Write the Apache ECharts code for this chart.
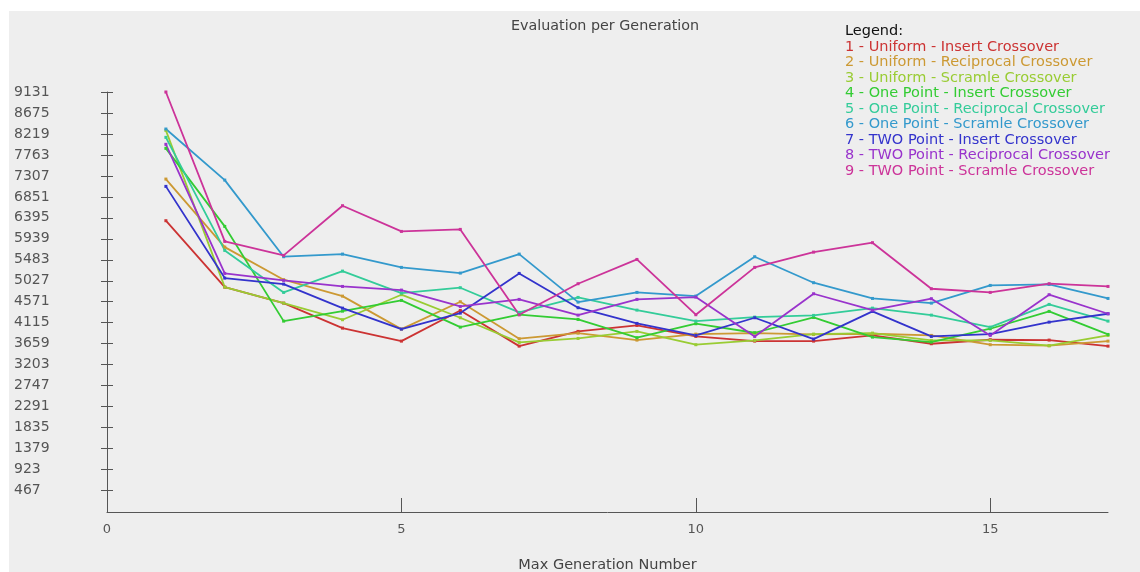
<!DOCTYPE html>
<html>
<head>
<meta charset="utf-8">
<script src="https://cdn.jsdelivr.net/npm/echarts@6/dist/echarts.min.js"></script>
<style>
html,body{margin:0;padding:0;background:#ffffff;}
#chart{width:1140px;height:572px;}
</style>
</head>
<body>
<div id="chart"></div>
<script>
// ---- data ----
const generations = [1,2,3,4,5,6,7,8,9,10,11,12,13,14,15,16,17];
const xTicks = [0,5,10,15];
const yTicks = [467,923,1379,1835,2291,2747,3203,3659,4115,4571,5027,5483,5939,6395,6851,7307,7763,8219,8675,9131];
const seriesNames = [
  "1 - Uniform - Insert Crossover",
  "2 - Uniform - Reciprocal Crossover",
  "3 - Uniform - Scramle Crossover",
  "4 - One Point - Insert Crossover",
  "5 - One Point - Reciprocal Crossover",
  "6 - One Point - Scramle Crossover",
  "7 - TWO Point - Insert Crossover",
  "8 - TWO Point - Reciprocal Crossover",
  "9 - TWO Point - Scramle Crossover"
];
const s1 = [6333,4889,4541,3998,3715,4382,3606,3926,4056,3817,3715,3715,3839,3658,3745,3737,3606];
const s2 = [7238,5759,5050,4693,3976,4571,3767,3889,3737,3867,3889,3860,3875,3839,3637,3615,3715];
const s3 = [8297,4889,4541,4180,4724,4223,3686,3773,3926,3637,3730,3867,3889,3730,3730,3615,3839];
const s4 = [7906,6209,4150,4367,4600,4019,4289,4187,3789,4093,3897,4230,3802,3693,3984,4361,3860];
const s5 = [8145,5687,4774,5237,4759,4876,4339,4665,4389,4150,4237,4274,4432,4280,4019,4513,4150];
const s6 = [8326,7216,5550,5607,5318,5194,5607,4563,4774,4694,5550,4985,4643,4541,4926,4948,4643];
const s7 = [7079,5085,4955,4432,3976,4324,5187,4441,4100,3839,4223,3759,4361,3817,3867,4128,4310];
const s8 = [7993,5187,5035,4904,4824,4469,4622,4280,4622,4672,3817,4745,4389,4637,3839,4724,4310];
const s9 = [9131,5883,5578,6659,6100,6144,4289,4963,5491,4289,5318,5650,5855,4854,4774,4963,4904];
const allSeries = [s1,s2,s3,s4,s5,s6,s7,s8,s9];
const colors = ["#cc3333","#cc9933","#99cc33","#33cc33","#33cc99","#3399cc","#3333cc","#9933cc","#cc3399"];

// ---- chart ----
const chart = echarts.init(document.getElementById('chart'), null, {renderer:'canvas'});
const FONT = "DejaVu Sans";
const axisColor = "#555555";
const GRID_LEFT = 107, GRID_RIGHT = 32;
const X_MAX = 17;
const gridWidth = 1140 - GRID_LEFT - GRID_RIGHT;
const tickStub = 6 * X_MAX / gridWidth; // inner half of the crossing y ticks, in x data units

const series = allSeries.map((vals, i) => ({
  name: seriesNames[i],
  type: 'line',
  data: generations.map((g, j) => [g, vals[j]]),
  symbol: 'rect',
  symbolSize: 3,
  showSymbol: true,
  lineStyle: {color: colors[i], width: 1.8},
  itemStyle: {color: colors[i]},
  emphasis: {disabled: true},
  animation: false
}));
// inner half of the y-axis ticks (the reference draws ticks crossing the axis)
series[0].markLine = {
  silent: true,
  symbol: 'none',
  animation: false,
  label: {show: false},
  emphasis: {disabled: true},
  lineStyle: {color: axisColor, width: 1, type: 'solid'},
  data: yTicks.map(v => [{coord: [0, v]}, {coord: [tickStub, v]}])
};

const option = {
  backgroundColor: '#ffffff',
  animation: false,
  graphic: [
    {type:'rect', z:-10, silent:true, shape:{x:9, y:11, width:1131, height:561}, style:{fill:'#eeeeee'}},
    {type:'text', left:845, top:24, silent:true, style:{text:'Legend:', fill:'#111111', font:'14.5px "DejaVu Sans"'}}
  ],
  title: {
    text: 'Evaluation per Generation',
    left: 511, top: 19, padding: 0,
    textStyle: {fontFamily: FONT, fontSize: 14.3, fontWeight: 'normal', color: '#444444'}
  },
  legend: {
    orient: 'vertical',
    left: 840, top: 39,
    padding: 0,
    itemGap: 0,
    itemWidth: 0,
    itemHeight: 0,
    icon: 'rect',
    selectedMode: false,
    data: seriesNames.map((n, i) => ({name: n, textStyle: {color: colors[i]}})),
    textStyle: {fontFamily: FONT, fontSize: 14.5, lineHeight: 15.5, padding: 0}
  },
  grid: {left: GRID_LEFT, right: GRID_RIGHT, top: 92, bottom: 60, containLabel: false, outerBoundsMode: 'none'},
  xAxis: {
    type: 'value', min: 0, max: X_MAX,
    name: 'Max Generation Number', nameLocation: 'middle', nameGap: 46,
    nameTextStyle: {fontFamily: FONT, fontSize: 14.5, color: '#444444'},
    axisLine: {show: true, onZero: false, lineStyle: {color: axisColor, width: 1}},
    axisTick: {show: true, inside: true, length: 14, customValues: [5,10,15], lineStyle: {color: axisColor}},
    axisLabel: {show: true, customValues: xTicks, margin: 11, fontFamily: FONT, fontSize: 13, color: '#555555'},
    splitLine: {show: false}
  },
  yAxis: {
    type: 'value', min: 0, max: 9131, position: 'left',
    axisLine: {show: true, lineStyle: {color: axisColor, width: 1}},
    axisTick: {show: true, inside: false, length: 6, customValues: yTicks, lineStyle: {color: axisColor}},
    axisLabel: {show: true, customValues: yTicks, align: 'left', margin: 93, fontFamily: FONT, fontSize: 14, color: '#555555',
                formatter: v => String(v)},
    splitLine: {show: false}
  },
  series: series
};
chart.setOption(option);
</script>
</body>
</html>
